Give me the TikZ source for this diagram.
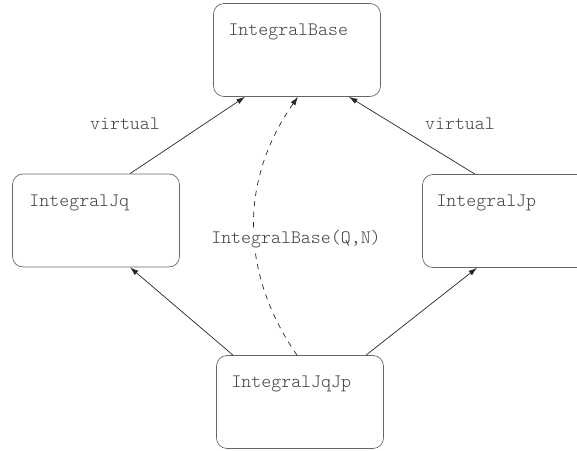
\documentclass[tikz,border=0pt]{standalone}
\usepackage{tikz}
\usetikzlibrary{arrows}
\usetikzlibrary{arrows.meta}

\tikzset{
  cls/.style={draw=black!60, rounded corners=6pt, minimum width=3.34cm, minimum height=1.86cm, inner sep=0pt},
  clsname/.style={anchor=north west, inner sep=0pt, text=black!75, font=\ttfamily\fontseries{l}\fontsize{10.8}{12}\selectfont},
  lbl/.style={text=black!75, font=\ttfamily\fontseries{l}\fontsize{10.8}{12}\selectfont},
  inh/.style={-{Latex[length=1.7mm, width=1.1mm]}, black!85, thin}
}

\begin{document}
\begin{tikzpicture}
  \useasboundingbox (0,0) rectangle (11.54,9);
  \clip (0,0) rectangle (11.54,9);
  % Classes
  \node[cls, label={[clsname, xshift=0.3cm, yshift=-0.4cm]north west:IntegralBase}] (base) at (5.94,8.0) {};
  \node[cls, label={[clsname, xshift=0.34cm, yshift=-0.42cm]north west:IntegralJq}] (jq) at (1.92,4.59) {};
  \node[cls, label={[clsname, xshift=0.28cm, yshift=-0.4cm]north west:IntegralJp}] (jp) at (10.12,4.58) {};
  \node[cls, label={[clsname, xshift=0.3cm, yshift=-0.4cm]north west:IntegralJqJp}] (jqjp) at (6.0,0.96) {};
  % Inheritance
  \draw[inh] ([xshift=0.68cm]jq.north) -- ([xshift=-1.04cm]base.south);
  \draw[inh] ([xshift=-0.62cm]jp.north) -- ([xshift=1.04cm]base.south);
  \draw[inh] ([xshift=-1.34cm]jqjp.north) -- ([xshift=0.68cm]jq.south);
  \draw[inh] ([xshift=1.32cm]jqjp.north) -- ([xshift=-0.58cm]jp.south);
  \node[lbl] (vq) at (2.5,6.52) {virtual};
  \node[lbl] (vp) at (9.2,6.52) {virtual};
  % Constructor call
  \draw[inh, dashed] ([xshift=-0.06cm]jqjp.north) to[bend left=35]
    node[lbl, fill=white, inner sep=1pt, xshift=0.84cm, yshift=-0.26cm] (ctor) {IntegralBase(Q,N)}
    ([xshift=0.02cm]base.south);
\end{tikzpicture}
\end{document}
